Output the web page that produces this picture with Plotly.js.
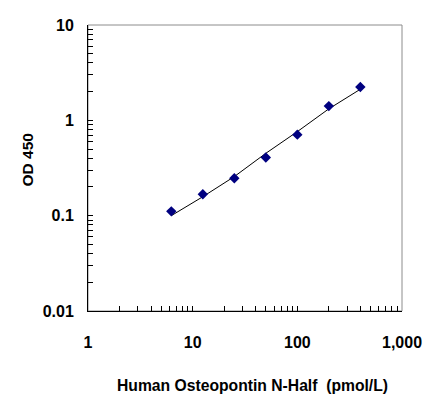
<!DOCTYPE html>
<html>
<head>
<meta charset="utf-8">
<script src="https://cdn.plot.ly/plotly-3.0.1.min.js"></script>
<style>html,body{margin:0;padding:0;background:#fff;}#chart{width:423px;height:398px;}</style>
</head>
<body>
<div id="chart"></div>
<script>
// Standards (pmol/L) and measured OD 450
var concentrations = [6.25, 12.5, 25, 50, 100, 200, 400];
var odValues = [0.111, 0.168, 0.247, 0.407, 0.708, 1.41, 2.24];
// Fitted curve
var fitX = [6.25, 12.5, 25, 50, 100, 123, 159, 200, 400];
var fitY = [0.100, 0.158, 0.257, 0.451, 0.761, 0.895, 1.09, 1.32, 2.12];

var xTickVals = [1,2,3,4,5,6,7,8,9,10,20,30,40,50,60,70,80,90,100,200,300,400,500,600,700,800,900,1000];
var xTickText = ['1','','','','','','','','','10','','','','','','','','','100','','','','','','','','','1,000'];
var yTickVals = [0.01,0.02,0.03,0.04,0.05,0.06,0.07,0.08,0.09,0.1,0.2,0.3,0.4,0.5,0.6,0.7,0.8,0.9,1,2,3,4,5,6,7,8,9,10];
var yTickText = ['0.01','','','','','','','','','0.1','','','','','','','','','1','','','','','','','','','10'];

var xTitle = 'Human Osteopontin N-Half\u00a0 (pmol/L)';
var yTitle = 'OD 450';

var fontFam = '"Liberation Sans", Arial, sans-serif';

var traces = [
  {x: fitX, y: fitY, type: 'scatter', mode: 'lines', line: {color: '#000000', width: 1}, hoverinfo: 'skip'},
  {x: concentrations, y: odValues, type: 'scatter', mode: 'markers',
   marker: {symbol: 'diamond', size: 8, color: '#000080', line: {width: 0}}}
];

var layout = {
  width: 423, height: 398,
  margin: {l: 88, r: 21, t: 25, b: 87},
  paper_bgcolor: '#ffffff', plot_bgcolor: '#ffffff',
  showlegend: false,
  font: {family: fontFam, color: '#000000'},
  xaxis: {
    type: 'log', range: [0, 3], tickvals: xTickVals, ticktext: xTickText,
    ticks: 'inside', ticklen: 5, tickcolor: '#000000', tickwidth: 1,
    showline: true, linecolor: '#000000', linewidth: 1, showgrid: false, zeroline: false,
    tickfont: {family: fontFam, size: 16, color: '#000000', weight: 'bold'},
    ticklabelstandoff: 17
  },
  yaxis: {
    type: 'log', range: [-2, 1], tickvals: yTickVals, ticktext: yTickText,
    ticks: 'inside', ticklen: 5, tickcolor: '#000000', tickwidth: 1,
    showline: true, linecolor: '#000000', linewidth: 1, showgrid: false, zeroline: false,
    tickfont: {family: fontFam, size: 16, color: '#000000', weight: 'bold'},
    ticklabelstandoff: 10
  },
  shapes: [{type: 'rect', xref: 'paper', yref: 'paper', x0: 0, x1: 1, y0: 0, y1: 1,
            line: {color: '#8c8c8c', width: 1}, layer: 'below'}],
  annotations: [
    {text: '<b>' + xTitle + '</b>', xref: 'paper', yref: 'paper', x: (252 - 88) / 314, y: (311 - 385) / 286,
     xanchor: 'center', yanchor: 'middle', showarrow: false, font: {family: fontFam, size: 15.7, color: '#000000'}},
    {text: '<b>' + yTitle + '</b>', xref: 'paper', yref: 'paper', x: (27.5 - 88) / 314, y: (311 - 160) / 286,
     xanchor: 'center', yanchor: 'middle', textangle: -90, showarrow: false, font: {family: fontFam, size: 15.5, color: '#000000'}}
  ]
};

Plotly.newPlot('chart', traces, layout, {staticPlot: true, displayModeBar: false});
</script>
</body>
</html>
